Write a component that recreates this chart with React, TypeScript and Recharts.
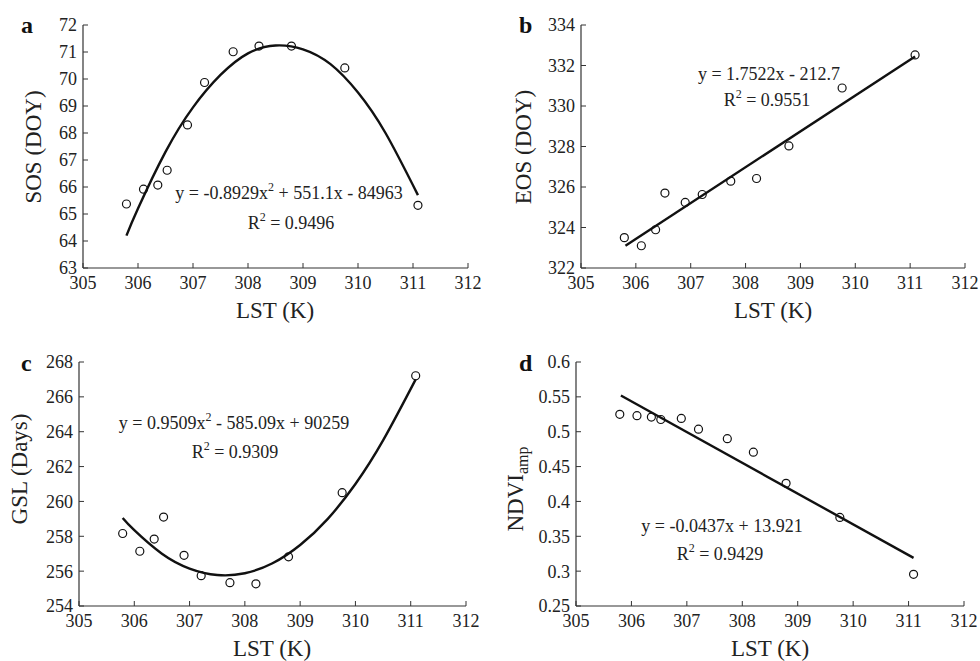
import React from "react";
import { ComposedChart, Scatter, Line, XAxis, YAxis } from "recharts";

// LST (K) of each observation, shared by all four panels
const lst = [305.79, 306.1, 306.36, 306.53, 306.9, 307.21, 307.73, 308.2, 308.79, 309.76, 311.09];
const sos = [65.37, 65.92, 66.07, 66.62, 68.3, 69.87, 71.01, 71.22, 71.22, 70.41, 65.32];
const eos = [323.5, 323.1, 323.89, 325.7, 325.24, 325.63, 326.29, 326.42, 328.03, 330.89, 332.52];
const gsl = [258.16, 257.14, 257.84, 259.1, 256.91, 255.74, 255.34, 255.27, 256.82, 260.5, 267.21];
const ndvi = [0.525, 0.523, 0.521, 0.5175, 0.519, 0.5036, 0.49, 0.4706, 0.426, 0.377, 0.2955];

// trend lines
const curveX = [305.79, 306, 306.5, 307, 307.5, 308, 308.5, 309, 309.5, 310, 310.5, 311.09];
const sosCurve = [64.2, 65.2, 67.3, 68.95, 70.15, 70.95, 71.24, 71.1, 70.55, 69.5, 68.0, 65.7];
const gslCurve = [259.05, 258.35, 257.0, 256.15, 255.78, 255.88, 256.45, 257.5, 259.0, 261.0, 263.5, 267.0];
const lineX = [305.81, 311.09];
const eosLine = [323.1, 332.45];
const ndviLine = [0.552, 0.319];

const xTicks = [305, 306, 307, 308, 309, 310, 311, 312];
const sosTicks = [63, 64, 65, 66, 67, 68, 69, 70, 71, 72];
const eosTicks = [322, 324, 326, 328, 330, 332, 334];
const gslTicks = [254, 256, 258, 260, 262, 264, 266, 268];
const ndviTicks = [0.25, 0.3, 0.35, 0.4, 0.45, 0.5, 0.55, 0.6];

const FONT = "'Liberation Serif', 'Times New Roman', serif";
const INK = "#222";

const toPts = (xs: number[], ys: number[]) => xs.map((x, i) => ({ x, y: ys[i] }));

const Ring = (props: any) => {
  const { cx, cy } = props;
  if (cx == null || cy == null) return null;
  return <circle cx={cx} cy={cy} r={4} fill="none" stroke="#111" strokeWidth={1.2} />;
};

interface PanelProps {
  left: number;
  top: number;
  width: number;
  height: number;
  margin: { top: number; right: number; bottom: number; left: number };
  ys: number[];
  fitX: number[];
  fitY: number[];
  yTicks: number[];
  curved: boolean;
}

function Panel({ left, top, width, height, margin, ys, fitX, fitY, yTicks, curved }: PanelProps) {
  const tickStyle = { fill: INK, fontSize: 18, fontFamily: FONT };
  return (
    <div style={{ position: "absolute", left, top, width, height }}>
      <ComposedChart width={width} height={height} margin={margin}>
        <XAxis
          type="number"
          dataKey="x"
          domain={[305, 312]}
          ticks={xTicks}
          allowDataOverflow
          height={40}
          tickSize={-5}
          tickMargin={13}
          tick={tickStyle}
          axisLine={{ stroke: "#333", strokeWidth: 1.2 }}
          tickLine={{ stroke: "#333" }}
        />
        <YAxis
          type="number"
          dataKey="y"
          domain={[yTicks[0], yTicks[yTicks.length - 1]]}
          ticks={yTicks}
          allowDataOverflow
          width={60}
          tickSize={-5}
          tickMargin={11}
          tick={tickStyle}
          axisLine={{ stroke: "#333", strokeWidth: 1.2 }}
          tickLine={{ stroke: "#333" }}
        />
        <Line
          data={toPts(fitX, fitY)}
          dataKey="y"
          type={curved ? "natural" : "linear"}
          stroke="#111"
          strokeWidth={2.4}
          dot={false}
          activeDot={false}
          isAnimationActive={false}
        />
        <Scatter data={toPts(lst, ys)} dataKey="y" shape={Ring} isAnimationActive={false} />
      </ComposedChart>
    </div>
  );
}

const Eq = ({ x, y, pre, sup, post }: { x: number; y: number; pre: string; sup?: string; post?: string }) => (
  <text x={x} y={y} textAnchor="middle" fontSize={18} fontFamily={FONT} fill={INK}>
    {pre}
    {sup && (
      <tspan dy={-8} fontSize={12}>
        {sup}
      </tspan>
    )}
    {post && <tspan dy={sup ? 8 : 0}>{post}</tspan>}
  </text>
);

export default function App() {
  return (
    <div style={{ position: "absolute", left: 0, top: 0, width: 980, height: 661, background: "#fff" }}>
      <Panel left={0} top={0} width={490} height={330} margin={{ top: 25, right: 22, bottom: 22, left: 23 }}
        ys={sos} fitX={curveX} fitY={sosCurve} yTicks={sosTicks} curved />
      <Panel left={490} top={0} width={490} height={330} margin={{ top: 25, right: 15, bottom: 22, left: 31 }}
        ys={eos} fitX={lineX} fitY={eosLine} yTicks={eosTicks} curved={false} />
      <Panel left={0} top={330} width={490} height={331} margin={{ top: 32, right: 24, bottom: 15, left: 19 }}
        ys={gsl} fitX={curveX} fitY={gslCurve} yTicks={gslTicks} curved />
      <Panel left={490} top={330} width={490} height={331} margin={{ top: 32, right: 16, bottom: 15, left: 26 }}
        ys={ndvi} fitX={lineX} fitY={ndviLine} yTicks={ndviTicks} curved={false} />

      <svg width={980} height={661} style={{ position: "absolute", left: 0, top: 0, pointerEvents: "none" }}>
        {/* panel letters */}
        <g fontFamily={FONT} fontWeight="bold" fontSize={24} fill="#111">
          <text x={21} y={33}>a</text>
          <text x={519} y={33}>b</text>
          <text x={21} y={371}>c</text>
          <text x={519} y={371}>d</text>
        </g>

        {/* axis titles */}
        <g fontFamily={FONT} fontSize={23} fill={INK} textAnchor="middle">
          <text x={275} y={318}>LST (K)</text>
          <text x={773} y={318}>LST (K)</text>
          <text x={272} y={656}>LST (K)</text>
          <text x={770} y={656}>LST (K)</text>
          <text x={41} y={147} transform="rotate(-90 41 147)">SOS (DOY)</text>
          <text x={531} y={147} transform="rotate(-90 531 147)">EOS (DOY)</text>
          <text x={27} y={469} transform="rotate(-90 27 469)">GSL (Days)</text>
          <text x={523} y={489} transform="rotate(-90 523 489)">
            NDVI
            <tspan fontSize={16} dy={5}>amp</tspan>
          </text>
        </g>

        {/* fit equations */}
        <Eq x={289} y={199} pre="y = -0.8929x" sup="2" post=" + 551.1x - 84963" />
        <Eq x={291} y={229} pre="R" sup="2" post=" = 0.9496" />
        <Eq x={769} y={80} pre="y = 1.7522x - 212.7" />
        <Eq x={767} y={106} pre="R" sup="2" post=" = 0.9551" />
        <Eq x={234} y={429} pre="y = 0.9509x" sup="2" post=" - 585.09x + 90259" />
        <Eq x={235} y={458} pre="R" sup="2" post=" = 0.9309" />
        <Eq x={722} y={532} pre="y = -0.0437x + 13.921" />
        <Eq x={720} y={560} pre="R" sup="2" post=" = 0.9429" />
      </svg>
    </div>
  );
}
